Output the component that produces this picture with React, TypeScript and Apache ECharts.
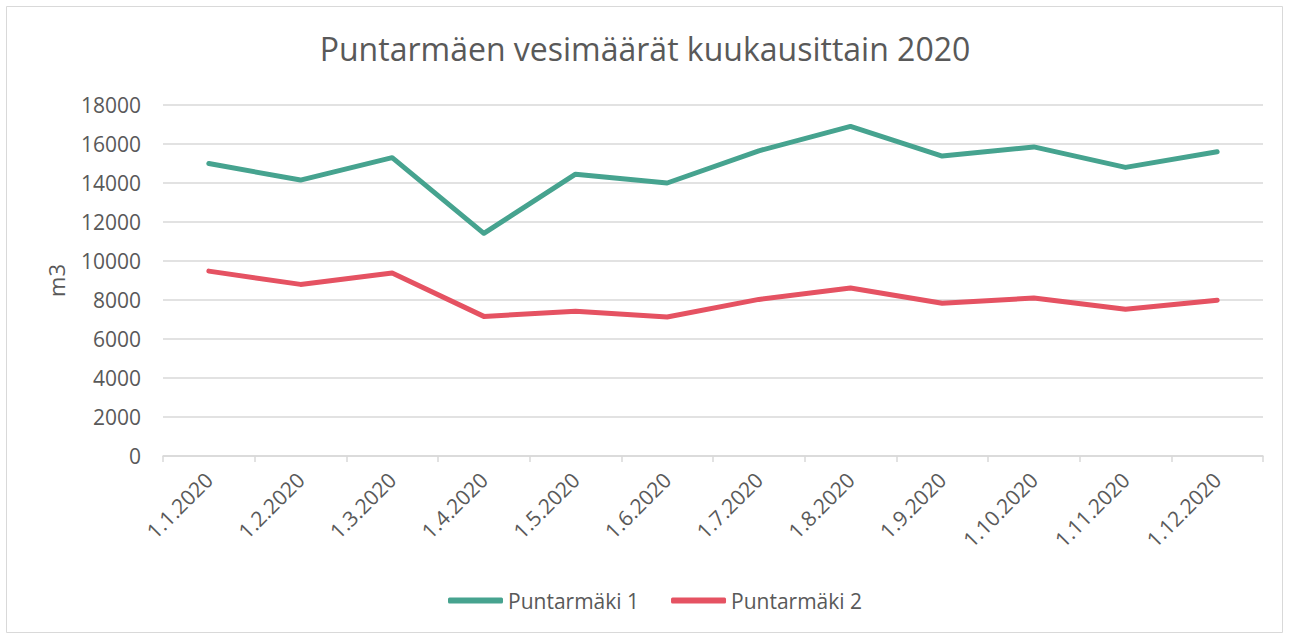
import React, { useEffect, useRef } from "react";
import * as echarts from "echarts";

const categories = ["1.1.2020", "1.2.2020", "1.3.2020", "1.4.2020", "1.5.2020", "1.6.2020", "1.7.2020", "1.8.2020", "1.9.2020", "1.10.2020", "1.11.2020", "1.12.2020"];
const puntarmaki1 = [15000, 14150, 15300, 11420, 14450, 14000, 15650, 16900, 15380, 15850, 14800, 15600];
const puntarmaki2 = [9480, 8800, 9380, 7160, 7420, 7130, 8030, 8620, 7830, 8100, 7530, 7990];
const seriesNames = ["Puntarmäki 1", "Puntarmäki 2"];

const FONT = "'Open Sans', 'Noto Sans', sans-serif";
const TXT = "#595959";

export default function App() {
  const ref = useRef<HTMLDivElement>(null);
  useEffect(() => {
    const chart = echarts.init(ref.current!, null, { renderer: "svg" });
    chart.setOption({
      animation: false,
      backgroundColor: "#ffffff",
      textStyle: { fontFamily: FONT, color: TXT },
      title: {
        text: "Puntarmäen vesimäärät kuukausittain 2020",
        left: "center",
        top: 27,
        textStyle: { fontFamily: FONT, fontSize: 32, fontWeight: "normal", color: TXT },
      },
      graphic: [
        {
          type: "rect",
          shape: { x: 6.5, y: 6.5, width: 1276, height: 626 },
          style: { fill: "none", stroke: "#D9D9D9", lineWidth: 1 },
          silent: true,
        },
      ],
      legend: {
        bottom: 19,
        left: 443,
        itemWidth: 55,
        itemHeight: 6,
        itemGap: 32,
        icon: "roundRect",
        textStyle: { fontFamily: FONT, fontSize: 21, color: TXT, padding: [0, 0, 0, 0] },
        data: seriesNames,
      },
      grid: { left: 163, right: 27, top: 105, bottom: 179, containLabel: false },
      xAxis: {
        type: "category",
        data: categories,
        boundaryGap: true,
        axisLine: { lineStyle: { color: "#D9D9D9", width: 1.5 } },
        axisTick: { show: true, length: 6, lineStyle: { color: "#D9D9D9", width: 1.5 } },
        axisLabel: { rotate: 45, margin: 20, fontFamily: FONT, fontSize: 21, color: TXT, interval: 0 },
      },
      yAxis: {
        type: "value",
        min: 0,
        max: 18000,
        interval: 2000,
        name: "m3",
        nameLocation: "middle",
        nameGap: 96,
        nameRotate: 90,
        nameTextStyle: { fontFamily: FONT, fontSize: 22, color: TXT },
        axisLine: { show: false },
        axisTick: { show: false },
        axisLabel: { fontFamily: FONT, fontSize: 21, color: TXT, margin: 22, formatter: (v: number) => String(v) },
        splitLine: { lineStyle: { color: "#D9D9D9", width: 1.5 } },
      },
      series: [
        {
          name: seriesNames[0],
          type: "line",
          data: puntarmaki1,
          symbol: "none",
          color: "#46A38F",
          lineStyle: { width: 5, color: "#46A38F", cap: "round", join: "round" },
        },
        {
          name: seriesNames[1],
          type: "line",
          data: puntarmaki2,
          symbol: "none",
          color: "#E55262",
          lineStyle: { width: 5, color: "#E55262", cap: "round", join: "round" },
        },
      ],
    });
    return () => chart.dispose();
  }, []);
  return (
    <div
      ref={ref}
      style={{ position: "fixed", left: 0, top: 0, width: 1290, height: 635 }}
    />
  );
}
